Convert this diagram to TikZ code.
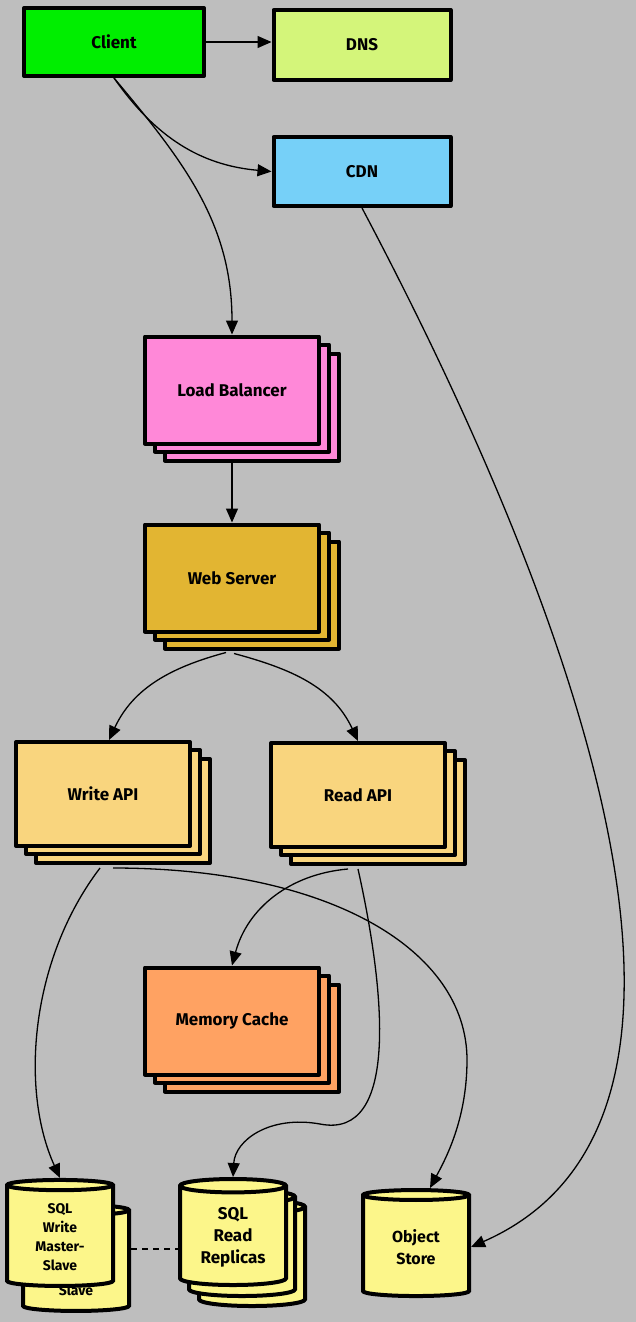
\documentclass[tikz,border=0pt]{standalone}
\usepackage{fontspec}
\setmainfont{Fira Sans}
\usetikzlibrary{positioning, arrows.meta, shapes.geometric, shadows}

\definecolor{bggray}{HTML}{BEBEBE}
\definecolor{clientgreen}{HTML}{00EE00}
\definecolor{dnsgreen}{HTML}{D4F57A}
\definecolor{cdnblue}{HTML}{76D0F8}
\definecolor{lbpink}{HTML}{FF88D8}
\definecolor{wsgold}{HTML}{E2B532}
\definecolor{apiyellow}{HTML}{F9D57E}
\definecolor{cacheorange}{HTML}{FFA262}
\definecolor{dbyellow}{HTML}{FCF68A}

\begin{document}
\begin{tikzpicture}[x=1pt,y=-1pt,->,>={Triangle[length=14pt,width=12pt]},line width=1.3pt]
\tikzstyle{box}=[draw=black,line width=4pt,line join=round,minimum width=174pt,minimum height=107pt,font=\bfseries\fontsize{17}{20}\selectfont,inner sep=2pt]
\tikzstyle{stack}=[box,fill=#1,
  general shadow={shadow xshift=20pt,shadow yshift=-17pt,draw=black,fill=#1},
  general shadow={shadow xshift=10pt,shadow yshift=-8pt,draw=black,fill=#1}]
\tikzstyle{db}=[cylinder,shape border rotate=90,aspect=0.2,draw=black,line width=4pt,fill=dbyellow,minimum width=106pt,minimum height=106pt,align=center,inner sep=1pt,font=\bfseries\fontsize{17}{22}\selectfont]

\useasboundingbox (0,0) rectangle (636,1322);
\fill[bggray] (0,0) rectangle (636,1322);

\node[box,fill=clientgreen,minimum width=180pt,minimum height=68pt] (client) at (114,42) {Client};
\node[box,fill=dnsgreen,minimum width=177pt,minimum height=70pt] (dns) at (362,45) {DNS};
\node[box,fill=cdnblue,minimum width=177pt,minimum height=69pt] (cdn) [below=53pt of dns] {CDN};

\node[stack=lbpink] (lb) at (232,390) {Load Balancer};
\node[stack=wsgold] (ws) at (232,578) {Web Server};
\node[stack=apiyellow,minimum height=104pt] (write) at (103,794) {Write API};
\node[stack=apiyellow,minimum height=104pt] (read) at (358,795) {Read API};
\node[stack=cacheorange] (cache) at (232,1021) {Memory Cache};

% databases
\node[db,font=\bfseries\fontsize{14}{19}\selectfont] (sqlwback) at (76,1262) {\phantom{SQL}\\\phantom{Write}\\\phantom{Master-}\\Slave};
\node[db,font=\bfseries\fontsize{14}{19}\selectfont] (sqlw) at (60,1237) {SQL\\Write\\Master-\\Slave};
\node[db,
  general shadow={shadow xshift=19pt,shadow yshift=-21pt,draw=black,fill=dbyellow},
  general shadow={shadow xshift=9pt,shadow yshift=-11pt,draw=black,fill=dbyellow}] (sqlr) at (233,1237) {SQL\\Read\\Replicas};
\node[db,font=\bfseries\fontsize{16}{22}\selectfont] (store) at (416,1247) {Object\\Store};

\path
(client.east) edge (client.east -| dns.west)
(client.south) edge[out=-55,in=175] (cdn.west)
(client.south) edge[out=-50,in=90] (lb.north)
([yshift=-17pt]lb.south) edge (ws.north)
([xshift=-6pt,yshift=-19pt]ws.south) edge[out=-165,in=65] ([xshift=6pt]write.north)
([xshift=2pt,yshift=-20pt]ws.south) edge[out=-15,in=115] (read.north)
([xshift=-10pt,yshift=-20pt]read.south) edge[out=185,in=75] (cache.north);

\draw (cdn.south) .. controls (580,620) and (760,1120) .. (store.east);
\draw ([xshift=-3pt,yshift=-20pt]write.south) .. controls (30,960) and (20,1090) .. (sqlw.north);
\draw ([xshift=10pt,yshift=-20pt]write.south) .. controls (330,868) and (467,950) .. (467,1060)
  .. controls (467,1120) and (445,1160) .. ([xshift=14pt]store.north);
\draw ([yshift=-20pt]read.south) .. controls (385,990) and (400,1140) .. (320,1124)
  .. controls (270,1115) and (235,1140) .. (sqlr.north);

\draw[-,dash pattern=on 6pt off 5pt] ([yshift=-12pt]sqlr.west -| sqlwback.east) -- ([yshift=-12pt]sqlr.west);
\end{tikzpicture}
\end{document}
